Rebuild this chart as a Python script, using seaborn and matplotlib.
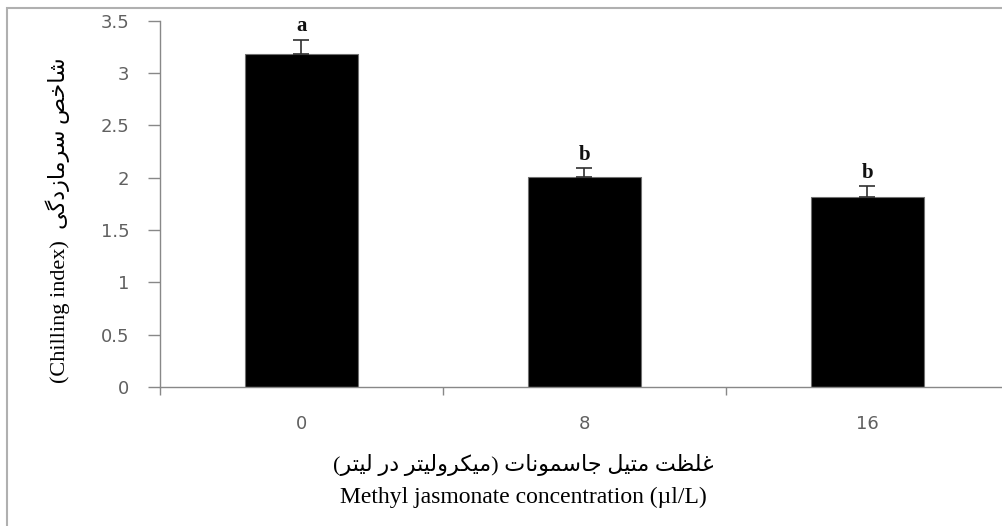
import matplotlib
matplotlib.use("Agg")
import matplotlib.pyplot as plt
from matplotlib.patches import Rectangle
import seaborn as sns
import numpy as np

# chart data
concentrations = ["0", "8", "16"]
chilling_index = [3.18, 2.01, 1.82]
std_error = [0.14, 0.08, 0.10]
group_letters = ["a", "b", "b"]
y_ticks = [0, 0.5, 1, 1.5, 2, 2.5, 3, 3.5]

ylabel_en = "(Chilling index)"
ylabel_fa = "شاخص سرمازدگی"
xlabel_fa = "غلظت متیل جاسمونات (میکرولیتر در لیتر)"
xlabel_en = "Methyl jasmonate concentration (µl/L)"

# Persian letter forms (isolated, final, initial, medial); right-joining letters have no init/medi
FORMS = {
    "ا": ("\uFE8D", "\uFE8E", None, None),
    "ت": ("\uFE95", "\uFE96", "\uFE97", "\uFE98"),
    "ج": ("\uFE9D", "\uFE9E", "\uFE9F", "\uFEA0"),
    "خ": ("\uFEA5", "\uFEA6", "\uFEA7", "\uFEA8"),
    "د": ("\uFEA9", "\uFEAA", None, None),
    "ر": ("\uFEAD", "\uFEAE", None, None),
    "ز": ("\uFEAF", "\uFEB0", None, None),
    "س": ("\uFEB1", "\uFEB2", "\uFEB3", "\uFEB4"),
    "ش": ("\uFEB5", "\uFEB6", "\uFEB7", "\uFEB8"),
    "ص": ("\uFEB9", "\uFEBA", "\uFEBB", "\uFEBC"),
    "ظ": ("\uFEC5", "\uFEC6", "\uFEC7", "\uFEC8"),
    "غ": ("\uFECD", "\uFECE", "\uFECF", "\uFED0"),
    "ل": ("\uFEDD", "\uFEDE", "\uFEDF", "\uFEE0"),
    "م": ("\uFEE1", "\uFEE2", "\uFEE3", "\uFEE4"),
    "ن": ("\uFEE5", "\uFEE6", "\uFEE7", "\uFEE8"),
    "و": ("\uFEED", "\uFEEE", None, None),
    "ک": ("\uFB8E", "\uFB8F", "\uFB90", "\uFB91"),
    "گ": ("\uFB92", "\uFB93", "\uFB94", "\uFB95"),
    "ی": ("\uFBFC", "\uFBFD", "\uFBFE", "\uFBFF"),
}


def persian(text):
    # matplotlib has no shaping, so pick joined forms and lay out right-to-left
    out = []
    for i, c in enumerate(text):
        if c not in FORMS:
            out.append(c)
            continue
        prev = text[i - 1] if i > 0 else ""
        nxt = text[i + 1] if i + 1 < len(text) else ""
        join_prev = prev in FORMS and FORMS[prev][2] is not None
        join_next = nxt in FORMS and FORMS[c][2] is not None
        isol, fina, init, medi = FORMS[c]
        if join_prev and join_next:
            out.append(medi)
        elif join_prev:
            out.append(fina)
        elif join_next:
            out.append(init)
        else:
            out.append(isol)
    mirror = {"(": ")", ")": "("}
    return "".join(mirror.get(c, c) for c in reversed(out))


sns.set_style("white")
plt.rcParams["font.family"] = ["Liberation Serif", "DejaVu Sans"]

fig = plt.figure(figsize=(10.03, 5.26), dpi=100)
ax = fig.add_axes([160 / 1003, 1 - 387 / 526, 849 / 1003, (387 - 20.7) / 526])

sns.barplot(x=concentrations, y=chilling_index, color="black", width=0.4,
            edgecolor="#707070", linewidth=0.8, ax=ax)
ax.errorbar(range(len(concentrations)), chilling_index,
            yerr=[np.zeros(len(std_error)), std_error], fmt="none",
            ecolor="#303030", elinewidth=1.2, capsize=6, capthick=1.2)

for i, (v, e, lt) in enumerate(zip(chilling_index, std_error, group_letters)):
    ax.text(i, v + e + 0.03, lt, ha="center", va="bottom", fontsize=15,
            fontweight="bold", family="Liberation Serif", color="#111")

ax.set_ylim(0, 3.5)
ax.set_xlim(-0.5, 2.5)
ax.set_yticks(y_ticks)
ax.set_yticklabels([f"{t:g}" for t in y_ticks], family="DejaVu Sans",
                   fontsize=13, color="#606060")
ax.set_xticks([-0.5, 0.5, 1.5, 2.5])
ax.set_xticklabels([])
ax.set_xticks(range(len(concentrations)), minor=True)
ax.set_xticklabels(concentrations, minor=True, family="DejaVu Sans",
                   fontsize=13, color="#606060")
ax.tick_params(axis="x", which="minor", bottom=False, length=0, pad=20)
ax.tick_params(axis="x", which="major", bottom=True, length=6, width=1,
               color="#888888", direction="out")
ax.tick_params(axis="y", left=True, length=9, width=1, color="#888888",
               direction="out", pad=13)
ax.set_xlabel("")
ax.set_ylabel("")

for side in ["top", "right"]:
    ax.spines[side].set_visible(False)
for side in ["left", "bottom"]:
    ax.spines[side].set_color("#888888")
    ax.spines[side].set_linewidth(1)

fig.text(58 / 1003, 1 - 220 / 526, ylabel_en + "  " + persian(ylabel_fa),
         rotation=90, ha="center", va="center", fontsize=16, color="black")
fig.text(523 / 1003, 1 - 465 / 526, persian(xlabel_fa), ha="center", va="center",
         fontsize=16, color="black")
fig.text(523 / 1003, 1 - 497 / 526, xlabel_en, ha="center", va="center",
         fontsize=17, color="black")

# outer frame of the picture
fig.add_artist(Rectangle((7 / 1003, -0.1), 1.2, 1.1 - 8 / 526, transform=fig.transFigure,
                         fill=False, edgecolor="#b0b0b0", linewidth=1.5))

fig.savefig("out.png", dpi=100)
